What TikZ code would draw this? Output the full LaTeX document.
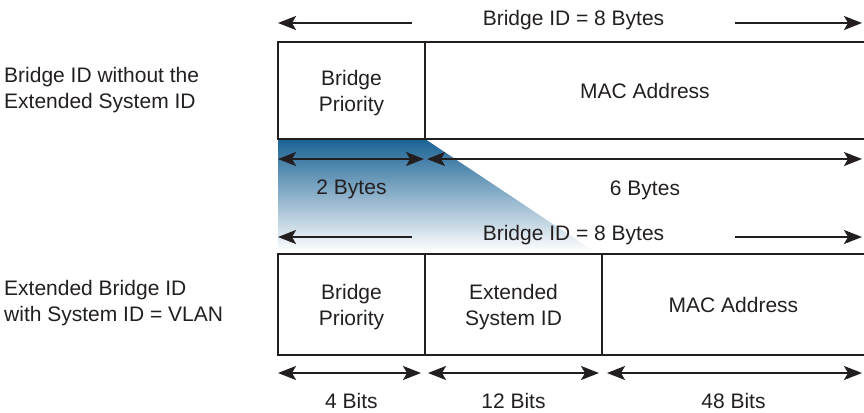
\documentclass[tikz,border=0pt]{standalone}
\usepackage{fontspec}
\setmainfont{Liberation Sans}
\usetikzlibrary{arrows.meta,positioning,calc}
\definecolor{inkgray}{RGB}{35,31,32}
\definecolor{fadeblue}{RGB}{26,98,148}
\definecolor{fademid}{RGB}{108,130,180}

\begin{document}
\begin{tikzpicture}[x=1pt, y=-1pt,
  every node/.style={font=\fontsize{21}{26}\selectfont, text=inkgray, inner sep=0pt},
  field/.style={draw=inkgray, line width=2pt, outer sep=0pt, align=center, text depth=0pt},
  sizelabel/.style={anchor=base},
  twoway/.style={{Stealth[length=18pt,width=14pt,inset=4pt]}-{Stealth[length=18pt,width=14pt,inset=4pt]},
    draw=inkgray, line width=1.8pt},
  oneway/.style={-{Stealth[length=18pt,width=14pt,inset=4pt]}, draw=inkgray, line width=1.8pt}]

% Canvas
\useasboundingbox (0,0) rectangle (864,412);

% Blue fade below the priority field
\shade[top color=fadeblue, middle color=fademid, bottom color=white]
  (278,139) -- (425,139) -- (595,252) -- (278,252) -- cycle;

% Upper frame
\node[field, anchor=north west, minimum width=147pt, minimum height=97pt] (prio1) at (278,42)
  {Bridge\\Priority};
\node[field, right=0pt of prio1, minimum width=440pt, minimum height=97pt] (mac1)
  {MAC Address};

% Side captions
\node[anchor=north west, align=left] (oldcap) at (4,66.8)
  {Bridge ID without the\\Extended System ID};
\node[anchor=north west, align=left] (extcap) at (4,279.8)
  {Extended Bridge ID\\with System ID = VLAN};

% Total length, upper
\node[sizelabel] (total1) at (573.5,26) {Bridge ID = 8 Bytes};
\draw[oneway] ($(total1.base west)+(-71,-3)$) -- ($(total1.base west -| prio1.west)+(0,-3)$);
\draw[oneway] ($(total1.base east)+(71,-3)$) -- ($(total1.base east -| mac1.east)+(-3,-3)$);

% Field lengths, upper
\draw[twoway] ($(prio1.south west)+(0,20)$) -- ($(prio1.south east)+(-1,20)$);
\draw[twoway] ($(mac1.south west)+(2,20)$) -- ($(mac1.south east)+(-3,20)$);
\node[sizelabel] (twobytes) at ($(prio1.south)+(0,55)$) {2 Bytes};
\node[sizelabel] (sixbytes) at ($(mac1.south)+(0,56)$) {6 Bytes};

% Lower frame
\node[field, anchor=north west, minimum width=147pt, minimum height=101pt] (prio2) at (278,254)
  {Bridge\\Priority};
\node[field, right=0pt of prio2, minimum width=177pt, minimum height=101pt] (extsys)
  {Extended\\System ID};
\node[field, right=0pt of extsys, minimum width=263pt, minimum height=101pt] (mac2)
  {MAC Address};

% Total length, lower
\node[sizelabel] (total2) at (573.5,240) {Bridge ID = 8 Bytes};
\draw[oneway] ($(total2.base west)+(-71,-3)$) -- ($(total2.base west -| prio2.west)+(0,-3)$);
\draw[oneway] ($(total2.base east)+(71,-3)$) -- ($(total2.base east -| mac2.east)+(-3,-3)$);

% Field lengths, lower
\draw[twoway] ($(prio2.south west)+(0,18)$) -- ($(prio2.south east)+(-4,18)$);
\draw[twoway] ($(extsys.south west)+(3,18)$) -- ($(extsys.south east)+(-3,18)$);
\draw[twoway] ($(mac2.south west)+(5,18)$) -- ($(mac2.south east)+(-3,18)$);
\node[sizelabel] (fourbits) at ($(prio2.south)+(0,53)$) {4 Bits};
\node[sizelabel] (twelvebits) at ($(extsys.south)+(0,53)$) {12 Bits};
\node[sizelabel] (fortyeight) at ($(mac2.south)+(0,53)$) {48 Bits};

\end{tikzpicture}
\end{document}
